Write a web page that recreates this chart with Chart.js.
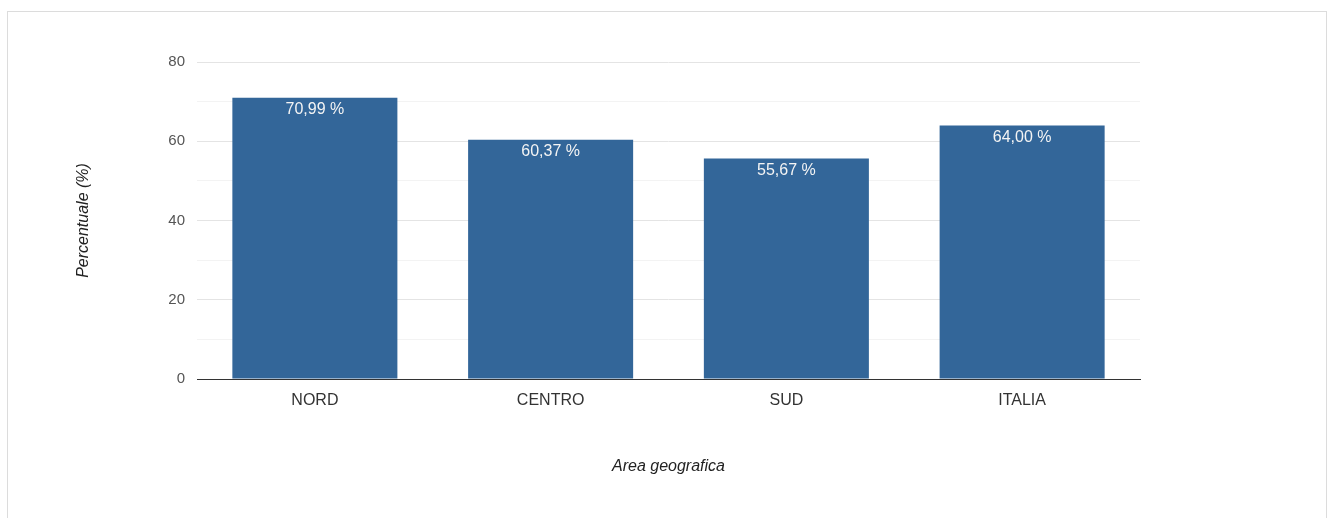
<!DOCTYPE html>
<html>
<head>
<meta charset="utf-8">
<script src="https://cdn.jsdelivr.net/npm/chart.js@4"></script>
<style>
  html, body { margin: 0; padding: 0; background: #fff; }
  #frame {
    position: absolute; left: 7px; top: 11px;
    width: 1320px; height: 520px;
    border: 1px solid #dcdcdc; box-sizing: border-box;
  }
  #wrap { position: absolute; left: 0; top: 0; width: 1333px; height: 518px; }
</style>
</head>
<body>
<div id="frame"></div>
<div id="wrap"><canvas id="chart"></canvas></div>
<script>
// Percentuale per area geografica
var areas = ['NORD', 'CENTRO', 'SUD', 'ITALIA'];
var percentuali = [70.99, 60.37, 55.67, 64.00];
var yTicks = [0, 20, 40, 60, 80];

var fontFamily = '"Liberation Sans", Arial, sans-serif';

function formatPct(v) {
    return v.toFixed(2).replace('.', ',') + ' %';
}

// draws the value inside the top of each bar
var barLabels = {
    id: 'barLabels',
    afterDatasetsDraw: function(chart) {
        var ctx = chart.ctx;
        var meta = chart.getDatasetMeta(0);
        ctx.save();
        ctx.fillStyle = '#f4f4f4';
        ctx.font = '16px ' + fontFamily;
        ctx.textAlign = 'center';
        ctx.textBaseline = 'middle';
        meta.data.forEach(function(bar, i) {
            ctx.fillText(formatPct(percentuali[i]), bar.x, bar.y + 12);
        });
        ctx.restore();
    }
};

new Chart(document.getElementById('chart'), {
    type: 'bar',
    data: {
        labels: areas,
        datasets: [{
            data: percentuali,
            backgroundColor: '#336699',
            categoryPercentage: 0.7,
            barPercentage: 1.0
        }]
    },
    options: {
        responsive: true,
        maintainAspectRatio: false,
        animation: false,
        layout: { padding: { top: 62, right: 193, left: 0, bottom: 0 } },
        plugins: {
            legend: { display: false },
            tooltip: { enabled: false }
        },
        scales: {
            x: {
                afterFit: function(scale) { scale.height = 139; },
                grid: { display: false },
                border: { display: true, color: '#333', width: 1 },
                ticks: { color: '#333', padding: 4, font: { family: fontFamily, size: 16 } },
                title: {
                    display: true,
                    text: 'Area geografica',
                    color: '#222',
                    padding: { bottom: 42 },
                    font: { family: fontFamily, size: 16, style: 'italic' }
                }
            },
            y: {
                min: 0,
                max: 80,
                afterFit: function(scale) { scale.width = 197; },
                border: { display: false },
                grid: {
                    drawTicks: false,
                    color: function(c) {
                        if (c.tick && c.tick.value % 20 === 0) return '#e4e4e4';
                        return '#f3f3f3';
                    }
                },
                ticks: {
                    stepSize: 10,
                    padding: 12,
                    color: '#555',
                    font: { family: fontFamily, size: 15 },
                    callback: function(v) {
                        return yTicks.indexOf(v) >= 0 ? String(v) : '';
                    }
                },
                title: {
                    display: true,
                    text: 'Percentuale (%)',
                    color: '#222',
                    padding: { top: 74 },
                    font: { family: fontFamily, size: 16, style: 'italic' }
                }
            }
        }
    },
    plugins: [barLabels]
});
</script>
</body>
</html>
